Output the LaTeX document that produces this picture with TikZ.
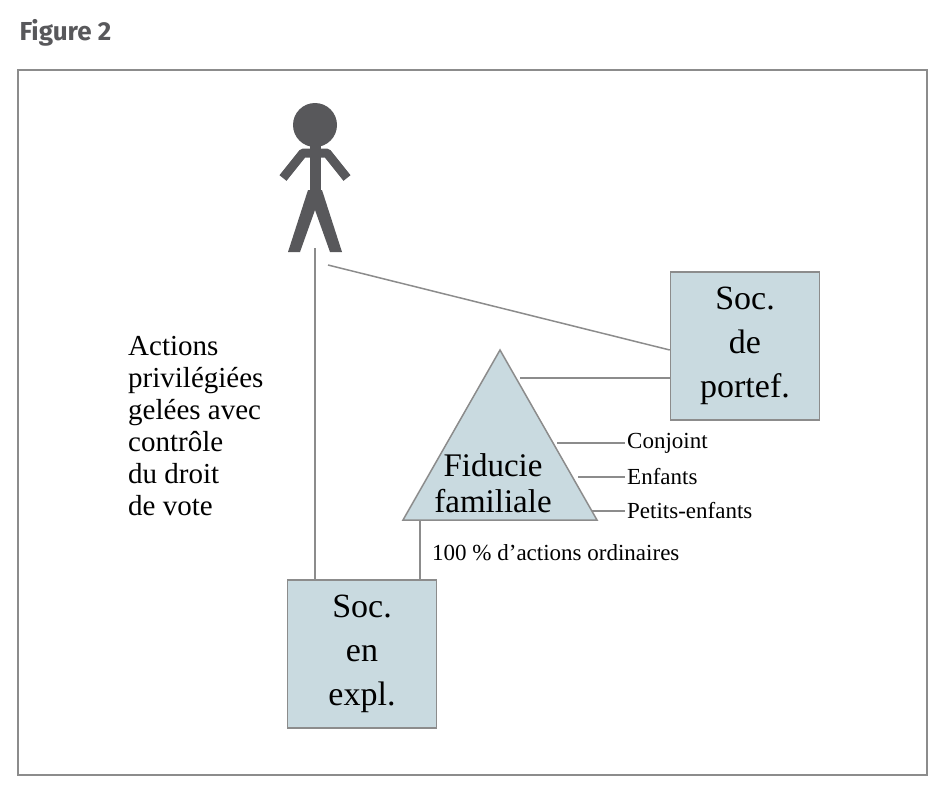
\documentclass[tikz,border=0pt]{standalone}
\usepackage{fontspec}
\setmainfont{Liberation Serif}
\newfontfamily\figfont{Fira Sans}
\definecolor{boxfill}{HTML}{C9DAE0}
\definecolor{linegray}{HTML}{8C8C8C}
\definecolor{mangray}{HTML}{58585B}
\tikzset{
  entity/.style={draw=linegray, line width=1.5pt, fill=boxfill, minimum width=149pt,
    minimum height=148pt, align=center, font=\fontsize{34}{44}\selectfont, inner sep=0pt},
  link/.style={draw=linegray, line width=1.5pt},
  heir/.style={anchor=west, inner sep=2pt, font=\fontsize{23}{26}\selectfont}
}
\begin{document}
\begin{tikzpicture}[x=1pt,y=-1pt]
  \useasboundingbox (0,0) rectangle (944,798);
  \node[anchor=west, text=mangray, font=\figfont\bfseries\fontsize{26}{30}\selectfont] (title) at (16,33) {Figure 2};
  \draw[linegray, line width=2pt] (18,70) rectangle (927,775);
  % person
  \fill[mangray] (315,125) circle (22);
  \draw[mangray, line width=11pt] (315,145) -- (315,200);
  \draw[mangray, line width=9pt, line join=round] (283,178) -- (303,153) -- (327,153) -- (347,178);
  \fill[mangray] (308,190) -- (322,190) -- (342,252) -- (330,252) -- (315,210) -- (300,252) -- (288,252) -- cycle;
  \coordinate (feet) at (315,248);
  \coordinate (hand) at (328,265);
  % boxes
  \node[entity] (portef) at (745,346) {Soc.\\de\\portef.};
  \node[entity] (expl) at (362,654) {Soc.\\en\\expl.};
  \draw[linegray, line width=1.5pt, fill=boxfill] (500,350) coordinate (apex) -- (597,520) -- (403,520) -- cycle;
  \node[font=\fontsize{33}{36}\selectfont, align=center] (fiducie) at (493,483) {Fiducie\\familiale};
  \coordinate (tri) at (520,378);
  \coordinate (base) at (420,520);
  \node[heir] (conjoint) at (625,443) {Conjoint};
  \node[heir] (enfants) at (625,477) {Enfants};
  \node[heir] (petits) at (625,511) {Petits-enfants};
  \draw[link] (557,443) -- (conjoint.west);
  \draw[link] (578,477) -- (enfants.west);
  \draw[link] (592,511) -- (petits.west);
  \draw[link] (feet) -- (feet |- expl.north);
  \draw[link] (hand) -- (portef.west |- 0,350);
  \draw[link] (tri) -- (portef.west |- tri);
  \draw[link] (base) -- (base |- expl.north);
  \node[heir] (ordinaires) at (430,553) {100 \% d'actions ordinaires};
  \node[anchor=north west, align=left, font=\fontsize{29}{32}\selectfont, inner sep=0pt] (privileg) at (128,336)
    {Actions\\privilégiées\\gelées avec\\contrôle\\du droit\\de vote};
\end{tikzpicture}
\end{document}
